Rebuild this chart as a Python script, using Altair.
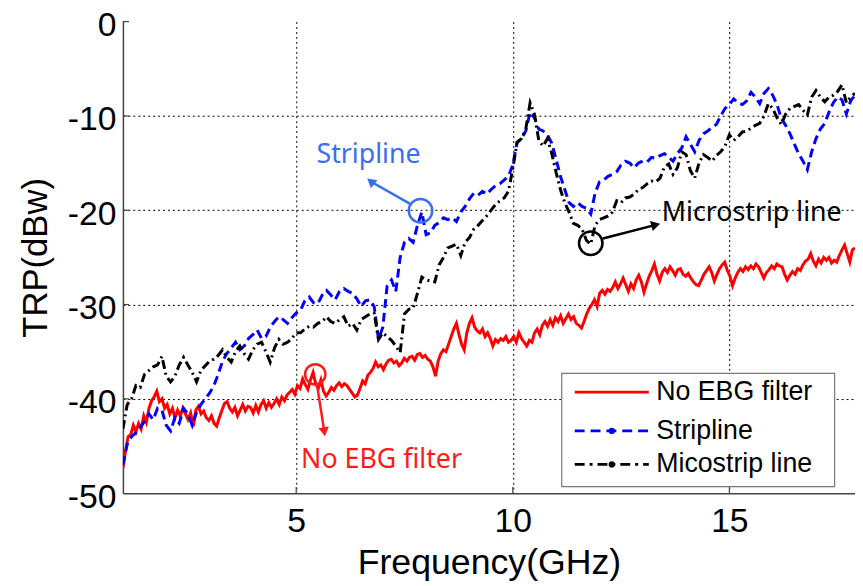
import altair as alt
import numpy as np
import pandas as pd

# ---------------- data ----------------
F_START, F_STOP = 1.0, 17.9

trp_no_ebg = [
    -47.4, -45.5, -44.0, -43.8, -42.8, -43.5, -42.6, -43.2, -41.8, -42.5, -41.0, -40.2, -39.8, -39.2,
    -40.3, -40.0, -41.0, -40.6, -41.6, -41.0, -42.0, -41.2, -41.8, -41.0, -41.6, -42.2, -41.5, -42.9,
    -41.2, -40.8, -41.6, -41.3, -42.0, -42.3, -41.8, -42.6, -42.9, -42.0, -41.2, -40.5, -40.3, -41.0,
    -41.4, -40.9, -41.8, -41.2, -40.6, -41.3, -40.8, -40.9, -41.5, -40.7, -41.4, -40.6, -40.2, -41.0,
    -40.4, -40.9, -40.5, -40.0, -40.6, -39.8, -40.2, -39.6, -39.3, -39.0, -39.5, -38.6, -38.9, -37.9,
    -38.5, -39.0, -38.0, -37.2, -38.4, -38.9, -38.0, -39.2, -39.7, -39.3, -38.8, -39.1, -38.6, -38.3,
    -38.7, -38.4, -38.6, -39.0, -39.4, -39.8, -39.6, -38.9, -38.1, -38.4, -37.5, -37.2, -36.8, -36.1,
    -36.6, -36.4, -36.9, -36.3, -35.9, -35.8, -36.2, -36.0, -36.5, -36.2, -35.7, -36.0, -35.6, -35.5,
    -35.9, -35.3, -35.2, -35.6, -35.4, -35.8, -36.0, -36.6, -37.6, -36.0, -35.2, -34.8, -35.0, -34.2,
    -33.4, -32.6, -32.0, -33.2, -34.2, -34.8, -33.0, -32.0, -31.4, -32.4, -32.8, -33.0, -32.6, -33.4,
    -33.0, -33.6, -34.4, -33.7, -34.0, -33.6, -33.8, -33.4, -34.0, -33.8, -33.4, -34.0, -33.0, -33.6,
    -34.0, -34.4, -33.8, -34.0, -33.0, -32.6, -33.2, -32.2, -31.8, -32.3, -31.6, -32.2, -31.4, -31.8,
    -31.2, -32.0, -31.5, -31.0, -31.6, -31.3, -32.0, -32.2, -32.5, -31.8, -31.0, -30.4, -30.0, -29.5,
    -30.2, -28.8, -28.5, -28.9, -28.4, -28.6, -28.2, -27.6, -28.3, -27.8, -27.2, -27.9, -28.6, -27.8,
    -28.3, -27.4, -26.9, -27.6, -28.7, -27.8, -27.0, -26.4, -25.7, -26.8, -27.5, -26.6, -26.2, -26.6,
    -26.0, -26.4, -26.9, -26.3, -26.2, -26.8, -27.0, -26.7, -27.2, -27.6, -27.9, -28.0, -27.4, -26.8,
    -26.4, -26.0, -26.6, -27.5, -26.8, -26.2, -25.8, -25.5, -26.4, -27.0, -28.0, -27.2, -26.6, -26.2,
    -26.5, -26.0, -26.3, -25.9, -26.2, -25.7, -26.0, -26.6, -27.2, -26.6, -26.3, -25.9, -26.2, -25.7,
    -25.9, -26.0, -26.8, -27.4, -26.9, -26.5, -26.8, -26.2, -26.4, -25.8, -25.4, -25.2, -24.6, -25.4,
    -25.9, -25.2, -25.6, -25.0, -25.3, -25.0, -25.6, -25.3, -25.5, -24.8, -24.2, -23.7, -24.6, -25.5,
    -24.2, -24.0,
]

trp_stripline = [
    -47.0, -44.8, -44.0, -43.6, -43.0, -42.4, -41.6, -42.2, -41.0, -41.2,
    -42.8, -43.4, -42.0, -42.6, -41.0, -41.6, -42.8, -41.4, -40.6, -40.0,
    -39.4, -38.6, -37.4, -36.0, -35.2, -34.6, -34.0, -34.8, -34.4, -33.6,
    -33.2, -32.7, -33.6, -33.4, -32.4, -31.8, -31.3, -31.6, -32.0, -31.4,
    -30.9, -30.6, -29.6, -29.2, -29.8, -29.9, -29.0, -28.5, -29.0, -29.5,
    -28.6, -28.3, -28.6, -28.8, -29.4, -30.2, -29.6, -29.5, -30.2, -33.7,
    -32.4, -28.0, -27.4, -28.6, -25.0, -23.4, -23.0, -23.4, -21.6, -20.2,
    -22.6, -22.4, -21.6, -21.3, -20.8, -21.0, -20.8, -21.2, -20.2, -19.6,
    -18.8, -18.2, -18.4, -18.0, -18.3, -17.8, -17.4, -17.2, -16.8, -16.4,
    -15.2, -12.8, -12.4, -11.6, -9.6, -10.2, -11.4, -11.6, -12.0, -12.9,
    -14.6, -16.4, -17.8, -19.2, -19.6, -19.2, -19.6, -19.8, -20.4, -18.2,
    -17.0, -16.8, -16.4, -16.2, -15.9, -15.2, -14.8, -15.0, -15.5, -15.0,
    -14.8, -14.9, -14.4, -14.5, -14.2, -14.0, -14.4, -14.8, -14.0, -13.4,
    -12.2, -13.0, -13.8, -12.6, -11.9, -11.6, -11.2, -10.9, -10.0, -9.2,
    -8.8, -8.2, -8.6, -8.8, -8.4, -7.5, -8.0, -8.7, -7.6, -7.1,
    -7.8, -8.8, -10.3, -11.0, -11.9, -13.0, -14.0, -14.8, -15.7, -13.8,
    -12.4, -11.4, -10.8, -9.6, -8.6, -8.0, -8.3, -9.8, -8.4, -7.8,
]

trp_microstrip = [
    -43.2, -40.6, -40.0, -38.6, -38.8, -37.4, -37.0, -36.6, -36.4, -35.5,
    -37.6, -38.2, -37.6, -36.4, -35.6, -36.4, -37.2, -38.2, -37.0, -36.5,
    -36.0, -35.8, -35.4, -34.8, -35.6, -36.1, -35.0, -34.4, -35.2, -35.8,
    -34.8, -34.2, -34.0, -35.0, -36.1, -34.6, -33.7, -34.2, -34.0, -33.6,
    -33.0, -33.0, -32.6, -32.3, -32.4, -32.0, -31.8, -31.3, -31.8, -32.0,
    -31.6, -31.3, -32.3, -32.0, -32.7, -31.6, -31.3, -31.0, -30.9, -33.7,
    -33.0, -33.4, -33.8, -34.4, -35.1, -31.0, -30.5, -30.4, -28.8, -27.1,
    -27.4, -27.5, -27.6, -25.8, -25.0, -24.0, -23.8, -23.6, -24.8, -23.4,
    -22.9, -22.0, -21.6, -21.1, -20.6, -20.0, -19.4, -19.0, -18.7, -18.0,
    -15.6, -12.8, -12.4, -11.4, -8.6, -9.8, -12.6, -13.2, -12.4, -14.0,
    -16.0, -17.8, -19.2, -20.2, -21.4, -21.6, -22.0, -23.2, -23.6, -21.6,
    -21.0, -20.8, -20.6, -20.2, -19.0, -19.2, -18.7, -18.6, -18.3, -17.8,
    -17.6, -17.2, -16.9, -17.0, -16.6, -15.4, -15.1, -16.2, -15.5, -13.8,
    -14.1, -15.8, -16.6, -15.0, -14.1, -14.4, -14.8, -14.2, -13.8, -13.2,
    -12.0, -12.6, -12.2, -11.7, -11.6, -11.3, -11.0, -10.8, -10.0, -8.7,
    -9.2, -10.2, -10.9, -9.8, -9.2, -9.0, -8.8, -9.4, -9.9, -8.0,
    -7.3, -8.0, -8.5, -8.0, -7.8, -7.4, -6.7, -8.6, -8.0, -7.6,
]

series_names = ["No EBG filter", "Stripline", "Micostrip line"]
series_colors = ["#FF0000", "#0000FF", "#000000"]

x_ticks = [5, 10, 15]
y_ticks = [-50, -40, -30, -20, -10, 0]

# annotations: text, position (GHz, dBw), colour
ann_text = ["Stripline", "No EBG filter", "Microstrip line"]
ann_x = [6.67, 6.97, 13.44]
ann_y = [-14.1, -46.5, -20.3]
ann_align = ["center", "center", "left"]
ann_color = ["#3A6EF0", "#FF1A1A", "#000000"]
circ_x = [7.87, 5.44, 11.8]
circ_y = [-20.06, -37.4, -23.5]
arrow_x0 = [7.63, 5.48, 12.08]
arrow_y0 = [-19.33, -38.5, -23.0]
arrow_x1 = [6.72, 5.65, 13.30]
arrow_y1 = [-16.95, -43.5, -21.55]
arrow_angle = [310, 171, 75]

# legend box (data units)
leg_box = dict(x=11.13, x2=17.43, y=-37.3, y2=-49.3)
leg_line_x = [11.43, 13.14]
leg_rows_y = [-39.3, -43.4, -46.95]
leg_text_x = 13.31

# ---------------- build ----------------
W, H = 739, 476
xs = alt.Scale(domain=[F_START, F_STOP], nice=False, zero=False)
ys = alt.Scale(domain=[-50, 0], nice=False, zero=False)
FONT = "Liberation Sans"

x_axis = alt.Axis(
    values=x_ticks, title="Frequency(GHz)", grid=True, gridDash=[2, 3], gridColor="#000000",
    gridWidth=1, gridOpacity=1, ticks=False, tickSize=0, labelPadding=12, labelFontSize=34,
    labelFont=FONT, labelColor="#000000", titleFont=FONT, titleFontSize=36, titleFontWeight="normal",
    titleColor="#000000", titleX=W / 2, titleY=81, titleBaseline="alphabetic", labelFlush=False,
    domainColor="#444444", domainWidth=1.5, labelExpr="'' + datum.value",
)
y_axis = alt.Axis(
    values=y_ticks, title="TRP(dBw)", grid=True, gridDash=[2, 3], gridColor="#000000",
    gridWidth=1,
    gridOpacity={"condition": {"test": "datum.value === 0 || datum.value === -50", "value": 0}, "value": 1},
    ticks=False, tickSize=0, labelPadding=7, labelOffset=4, labelFontSize=34, labelFont=FONT,
    labelColor="#000000", titleFont=FONT, titleFontSize=35, titleFontWeight="normal",
    titleColor="#000000", titleX=-88, titleY=H / 2, titleBaseline="middle", titleAngle=270,
    labelFlush=False, domainColor="#444444", domainWidth=1.5, labelExpr="'' + datum.value",
)


def X(field):
    return alt.X(field, scale=xs, axis=x_axis)


def Y(field):
    return alt.Y(field, scale=ys, axis=y_axis)


def series_df(vals):
    return pd.DataFrame({"f": np.linspace(F_START, F_STOP, len(vals)), "v": vals})


red = alt.Chart(series_df(trp_no_ebg)).mark_line(
    color=series_colors[0], strokeWidth=3, clip=True
).encode(x=X("f:Q"), y=Y("v:Q"))

blue = alt.Chart(series_df(trp_stripline)).mark_line(
    color=series_colors[1], strokeWidth=3, strokeDash=[9, 5], clip=True
).encode(x=X("f:Q"), y=Y("v:Q"))

black = alt.Chart(series_df(trp_microstrip)).mark_line(
    color=series_colors[2], strokeWidth=3, strokeDash=[9, 4, 2, 4], clip=True
).encode(x=X("f:Q"), y=Y("v:Q"))

# inward ticks (MATLAB style)
xt_df = pd.DataFrame({"f": x_ticks, "v": -50.0, "v2": -49.35})
yt_df = pd.DataFrame({"f": F_START, "f2": F_START + 0.14, "v": [t for t in y_ticks if t > -50]})
xt = alt.Chart(xt_df).mark_rule(color="#444444", strokeWidth=1.2).encode(
    x=X("f:Q"), y=Y("v:Q"), y2="v2:Q")
yt = alt.Chart(yt_df).mark_rule(color="#444444", strokeWidth=1.2).encode(
    x=X("f:Q"), x2="f2:Q", y=Y("v:Q"))

# annotations
ann_df = pd.DataFrame({
    "t": ann_text, "f": ann_x, "v": ann_y,
    "cf": circ_x, "cv": circ_y, "x0": arrow_x0, "y0": arrow_y0, "x1": arrow_x1, "y1": arrow_y1,
})
ann_layers = []
for i in range(len(ann_text)):
    d = ann_df.iloc[[i]]
    col = ann_color[i]
    ann_layers.append(alt.Chart(d).mark_text(
        font="Noto Sans", fontSize=27, color=col, align=ann_align[i], baseline="middle"
    ).encode(x=X("f:Q"), y=Y("v:Q"), text="t:N"))
    ann_layers.append(alt.Chart(d).mark_point(
        shape="circle", size=560 if i != 1 else 420, filled=False, stroke=col, strokeWidth=2.5, opacity=1
    ).encode(x=X("cf:Q"), y=Y("cv:Q")))
    ann_layers.append(alt.Chart(d).mark_rule(color=col, strokeWidth=2.5).encode(
        x=X("x0:Q"), y=Y("y0:Q"), x2="x1:Q", y2="y1:Q"))
    ann_layers.append(alt.Chart(d).mark_point(
        shape="triangle-up", size=110, filled=True, color=col, opacity=1, angle=arrow_angle[i]
    ).encode(x=X("x1:Q"), y=Y("y1:Q")))

# legend
box = alt.Chart(pd.DataFrame([leg_box])).mark_rect(
    fill="#FFFFFF", stroke="#777777", strokeWidth=1.2
).encode(x=X("x:Q"), x2="x2:Q", y=Y("y:Q"), y2="y2:Q")

leg_layers = [box]
dashes = [None, [10, 6], [10, 5, 3, 5]]
for i in range(3):
    d = pd.DataFrame({"x": [leg_line_x[0]], "x2": [leg_line_x[1]], "y": [leg_rows_y[i]],
                      "xm": [(leg_line_x[0] + leg_line_x[1]) / 2], "t": [series_names[i]],
                      "xt": [leg_text_x]})
    kw = dict(color=series_colors[i], strokeWidth=2.8)
    if dashes[i]:
        kw["strokeDash"] = dashes[i]
    leg_layers.append(alt.Chart(d).mark_rule(**kw).encode(x=X("x:Q"), x2="x2:Q", y=Y("y:Q")))
    if i > 0:
        leg_layers.append(alt.Chart(d).mark_point(
            shape="circle", size=40, filled=True, color=series_colors[i], opacity=1
        ).encode(x=X("xm:Q"), y=Y("y:Q")))
    leg_layers.append(alt.Chart(d).mark_text(
        font=FONT, fontSize=27, color="#000000", align="left", baseline="middle"
    ).encode(x=X("xt:Q"), y=Y("y:Q"), text="t:N"))

chart = alt.layer(red, blue, black, xt, yt, *ann_layers, *leg_layers).properties(
    width=W, height=H,
    autosize=alt.AutoSizeParams(type="none"),
    padding={"left": 116, "top": 11, "right": 0, "bottom": 91},
    background="#FFFFFF",
).configure_view(stroke=None)

chart.save("out.html", embed_options={"renderer": "svg", "actions": False})
